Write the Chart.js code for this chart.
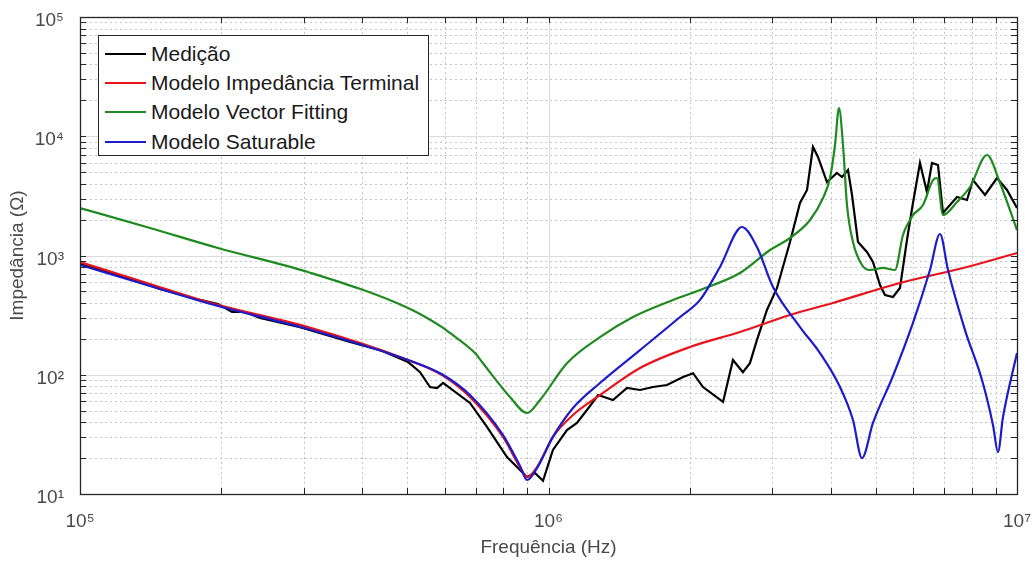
<!DOCTYPE html>
<html><head><meta charset="utf-8">
<script src="https://cdn.jsdelivr.net/npm/chart.js@4/dist/chart.umd.min.js"></script>
<style>
html,body{margin:0;padding:0;background:#fff;}
#wrap{position:relative;width:1035px;height:563px;}
#legend{position:absolute;background:#fff;border:1px solid #262626;box-sizing:border-box;font-family:"Liberation Sans",Arial,sans-serif;font-size:21px;color:#1a1a1a;padding-top:3px;}
.row{display:flex;align-items:center;height:29.3px;white-space:nowrap;}
.sw{width:41px;height:2px;margin:0 5px 0 6px;flex:none;}
</style></head><body>
<div id="wrap"><canvas id="c" width="1035" height="563"></canvas><div id="legend"></div></div>
<script>
const FONT = '"Liberation Sans", Arial, "DejaVu Sans", sans-serif';

// ---- data (frequency in Hz, impedance in ohm) ----
const seriesNames = ['Medição', 'Modelo Impedância Terminal', 'Modelo Vector Fitting', 'Modelo Saturable'];

const medFreq = [1.00e5,1.217e5,1.482e5,1.804e5,1.970e5,2.111e5,2.250e5,2.422e5,2.949e5,3.770e5,4.369e5,5.013e5,5.319e5,5.585e5,5.781e5,5.955e5,6.798e5,7.390e5,8.155e5,8.693e5,8.999e5,9.359e5,9.734e5,1.022e6,1.095e6,1.150e6,1.208e6,1.276e6,1.373e6,1.471e6,1.568e6,1.671e6,1.790e6,1.937e6,2.035e6,2.137e6,2.358e6,2.476e6,2.600e6,2.691e6,2.786e6,2.926e6,3.074e6,3.277e6,3.442e6,3.563e6,3.669e6,3.760e6,3.930e6,4.128e6,4.231e6,4.358e6,4.445e6,4.577e6,4.783e6,4.927e6,5.100e6,5.227e6,5.436e6,5.626e6,5.823e6,5.997e6,6.207e6,6.424e6,6.584e6,6.782e6,6.950e6,7.446e6,7.821e6,8.055e6,8.545e6,9.064e6,9.521e6,1.0e7];
const medZ    = [849,673,524,424,392,336,336,299,251,188,161,128,105,78.9,77.4,85.3,58.0,36.5,20.4,15.9,13.9,15.0,12.9,23.4,34.4,39.4,50.6,67.6,61.4,77.4,74.5,78.9,82.0,95.7,103,78.9,59.1,133,105,125,196,349,534,1298,2756,3543,8126,6699,4134,4918,4553,5212,3216,1298,1070,882,566,466,449,534,1349,2756,5967,3409,5967,5741,2272,3095,2920,4297,3216,4466,3543,2502];

const termFreq = [1.00e5,1.411e5,1.970e5,3.066e5,5.013e5,5.925e5,6.798e5,7.996e5,8.693e5,8.999e5,9.451e5,1.022e6,1.128e6,1.288e6,1.568e6,2.005e6,2.562e6,3.277e6,4.048e6,5.626e6,7.821e6,1.0e7];
const termZ    = [882,577,385,251,133,99.5,65.1,30.1,16.8,13.9,16.8,30.1,46.0,67.6,114,171,228,317,400,588,801,1050];

const vfFreq = [1.00e5,1.411e5,1.970e5,3.066e5,5.013e5,5.925e5,6.163e5,6.967e5,7.246e5,8.276e5,8.999e5,9.590e5,1.095e6,1.288e6,1.515e6,1.844e6,2.106e6,2.562e6,2.971e6,3.277e6,3.616e6,3.854e6,3.989e6,4.088e6,4.169e6,4.252e6,4.336e6,4.466e6,4.668e6,4.857e6,5.176e6,5.490e6,5.709e6,5.909e6,5.997e6,6.300e6,6.618e6,6.749e6,6.950e6,7.446e6,7.937e6,8.629e6,9.198e6,1.0e7];
const vfZ    = [2502,1701,1156,727,363,251,224,152,125,65.1,47.8,61.4,125,207,305,424,514,713,1112,1402,1985,3035,4466,8445,17250,8445,2651,1298,833,756,786,756,1486,1985,2186,2651,4297,4466,2186,2809,3753,6963,4055,1636];

const satFreq = [1.00e5,1.411e5,1.970e5,3.066e5,5.013e5,5.925e5,6.798e5,7.996e5,8.693e5,8.999e5,9.451e5,1.022e6,1.128e6,1.288e6,1.568e6,1.909e6,2.106e6,2.323e6,2.588e6,2.786e6,3.014e6,3.442e6,3.797e6,4.190e6,4.466e6,4.668e6,4.927e6,5.436e6,5.997e6,6.520e6,6.849e6,7.124e6,7.745e6,8.420e6,8.887e6,9.108e6,9.335e6,1.0e7];
const satZ    = [833,555,377,242,133,101,67.6,31.2,17.2,13.1,16.5,30.1,52.6,85.3,161,305,424,801,1734,1179,544,251,152,78.9,41.7,20.0,39.4,97.6,272,756,1515,756,237,90.4,37.9,22.5,44.2,152];

// ---- axes ----
const xDecadeStarts = [1e5, 1e6];
const yDecadeStarts = [1e1, 1e2, 1e3, 1e4];
const tickMultipliers = [1,2,3,4,5,6,7,8,9];
const xTickValues = xDecadeStarts.flatMap(d => tickMultipliers.map(m => m * d)).concat([1e7]);
const yTickValues = yDecadeStarts.flatMap(d => tickMultipliers.map(m => m * d)).concat([1e5]);
const SUP = ['⁰','¹','²','³','⁴','⁵','⁶','⁷','⁸','⁹'];
const isDecade = v => Math.abs(Math.log10(v) - Math.round(Math.log10(v))) < 1e-9;
const decadeLabel = v => isDecade(v) ? '10' + SUP[Math.round(Math.log10(v))] : '';

const colors = ['#000000', '#e8141c', '#1f8a1f', '#1c1ccc'];
const pts = (f, z) => f.map((v, i) => ({x: v, y: z[i]}));

const frame = {
  id: 'frame',
  beforeDatasetsDraw(chart) {
    const {ctx, chartArea: a, scales: {x, y}} = chart;
    ctx.save();
    ctx.lineWidth = 1;
    x.ticks.forEach(t => {
      const p = Math.round(x.getPixelForValue(t.value)) + 0.5;
      const maj = isDecade(t.value);
      ctx.strokeStyle = maj ? '#dcdcdc' : '#c6c6c6';
      ctx.setLineDash(maj ? [] : [2, 3]);
      ctx.beginPath(); ctx.moveTo(p, a.top); ctx.lineTo(p, a.bottom); ctx.stroke();
    });
    y.ticks.forEach(t => {
      const p = Math.round(y.getPixelForValue(t.value)) + 0.5;
      const maj = isDecade(t.value);
      ctx.strokeStyle = maj ? '#dcdcdc' : '#c6c6c6';
      ctx.setLineDash(maj ? [] : [2, 3]);
      ctx.beginPath(); ctx.moveTo(a.left, p); ctx.lineTo(a.right, p); ctx.stroke();
    });
    ctx.restore();
  },
  afterDatasetsDraw(chart) {
    const {ctx, chartArea: a, scales: {x, y}} = chart;
    ctx.save();
    ctx.strokeStyle = '#262626';
    ctx.lineWidth = 1;
    ctx.setLineDash([]);
    const L = 6;
    ctx.beginPath();
    x.ticks.forEach(t => {
      const p = Math.round(x.getPixelForValue(t.value)) + 0.5;
      ctx.moveTo(p, a.bottom); ctx.lineTo(p, a.bottom - L);
      ctx.moveTo(p, a.top); ctx.lineTo(p, a.top + L);
    });
    y.ticks.forEach(t => {
      const p = Math.round(y.getPixelForValue(t.value)) + 0.5;
      ctx.moveTo(a.left, p); ctx.lineTo(a.left + L, p);
      ctx.moveTo(a.right, p); ctx.lineTo(a.right - L, p);
    });
    ctx.stroke();
    ctx.lineWidth = 1.3;
    ctx.strokeRect(Math.round(a.left) + 0.5, Math.round(a.top) + 0.5, Math.round(a.right - a.left), Math.round(a.bottom - a.top));
    ctx.restore();
  }
};

const ds = (label, f, z, color, order, smooth) => ({
  label, data: pts(f, z), showLine: true, borderColor: color, backgroundColor: color,
  borderWidth: 2.2, pointRadius: 0, order,
  cubicInterpolationMode: smooth ? 'monotone' : 'default', tension: 0
});

const chart = new Chart(document.getElementById('c'), {
  type: 'scatter',
  data: {
    datasets: [
      ds(seriesNames[0], medFreq, medZ, colors[0], 4, false),
      ds(seriesNames[1], termFreq, termZ, colors[1], 3, true),
      ds(seriesNames[2], vfFreq, vfZ, colors[2], 2, true),
      ds(seriesNames[3], satFreq, satZ, colors[3], 1, true)
    ]
  },
  options: {
    responsive: false, animation: false, devicePixelRatio: 1,
    layout: {padding: {top: 17, right: 18, bottom: 0, left: 0}},
    plugins: {legend: {display: false}, tooltip: {enabled: false}},
    scales: {
      x: {
        type: 'logarithmic', min: 1e5, max: 1e7,
        afterBuildTicks: s => { s.ticks = xTickValues.map(v => ({value: v, major: isDecade(v)})); },
        afterFit: s => { s.height = 69; s.paddingLeft = 0; s.paddingRight = 0; },
        grid: {display: false}, border: {display: false},
        ticks: {autoSkip: false, maxRotation: 0, padding: 8, color: '#4a4a4a', font: {family: FONT, size: 19}, callback: v => decadeLabel(v)},
        title: {display: true, text: 'Frequência (Hz)', color: '#4a4a4a', font: {family: FONT, size: 19}, padding: {top: 0, bottom: 4}}
      },
      y: {
        type: 'logarithmic', min: 10, max: 1e5,
        afterBuildTicks: s => { s.ticks = yTickValues.map(v => ({value: v, major: isDecade(v)})); },
        afterFit: s => { s.width = 80; s.paddingTop = 0; s.paddingBottom = 0; },
        grid: {display: false}, border: {display: false},
        ticks: {autoSkip: false, padding: 8, labelOffset: 4, color: '#4a4a4a', font: {family: FONT, size: 19}, callback: v => decadeLabel(v)},
        title: {display: true, text: 'Impedância (Ω)', color: '#4a4a4a', font: {family: FONT, size: 19}, padding: {top: 6, bottom: 0}}
      }
    }
  },
  plugins: [frame]
});

// legend (HTML, real text)
const lg = document.getElementById('legend');
const a = chart.chartArea;
lg.style.left = (a.left + 18) + 'px';
lg.style.top = (a.top + 18) + 'px';
lg.style.width = '331px';
lg.style.height = '121px';
seriesNames.forEach((n, i) => {
  const r = document.createElement('div'); r.className = 'row';
  const s = document.createElement('span'); s.className = 'sw'; s.style.background = colors[i];
  const t = document.createElement('span'); t.textContent = n;
  r.appendChild(s); r.appendChild(t); lg.appendChild(r);
});
</script>
</body></html>
